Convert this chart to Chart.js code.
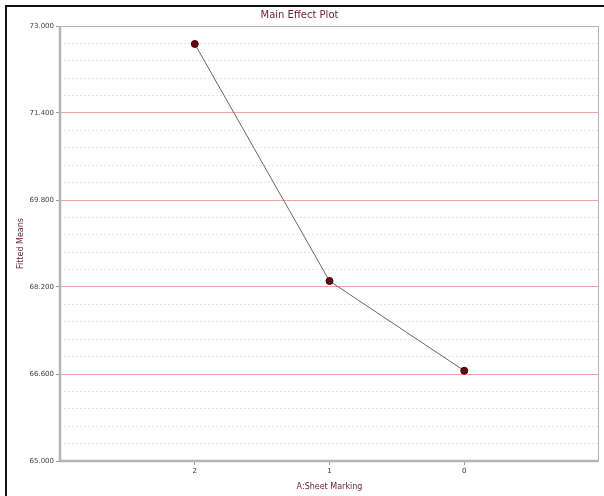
<!DOCTYPE html>
<html>
<head>
<meta charset="utf-8">
<script src="https://cdn.jsdelivr.net/npm/chart.js@4/dist/chart.umd.min.js"></script>
<style>
  html, body { margin: 0; padding: 0; background: #fff; }
  #wrap { width: 604px; height: 496px; }
</style>
</head>
<body>
<div id="wrap"><canvas id="effectChart"></canvas></div>
<script>
// Data
const levels = ['2', '1', '0'];
const fittedMeans = [72.67, 68.31, 66.66];
const yMin = 65.0, yMax = 73.0;
const majorStep = 1.6, minorStep = 0.32;

const maroon = '#6e2434';

// white page + the black frame on top/left of the screenshot
const framePlugin = {
    id: 'frame',
    beforeDraw(chart) {
        const ctx = chart.ctx;
        ctx.save();
        ctx.fillStyle = '#fff';
        ctx.fillRect(0, 0, chart.width, chart.height);
        ctx.strokeStyle = '#111';
        ctx.lineWidth = 2;
        ctx.beginPath();
        ctx.moveTo(6, chart.height);
        ctx.lineTo(6, 6);
        ctx.lineTo(chart.width, 6);
        ctx.stroke();
        ctx.restore();
    },
    afterDatasetsDraw(chart) {
        // grey plot box drawn over grid
        const a = chart.chartArea, ctx = chart.ctx;
        ctx.save();
        ctx.strokeStyle = '#b4b4b4';
        ctx.lineWidth = 1;
        ctx.strokeRect(a.left + 0.5, a.top + 0.5, a.right - a.left - 1, a.bottom - a.top);
        ctx.lineWidth = 2.5;
        ctx.beginPath();
        ctx.moveTo(a.left, a.top);
        ctx.lineTo(a.left, a.bottom);
        ctx.lineTo(a.right, a.bottom);
        ctx.stroke();
        ctx.restore();
    }
};

const isMajor = v => Math.abs(((v - yMin) / majorStep) - Math.round((v - yMin) / majorStep)) < 1e-6;

const ctx = document.getElementById('effectChart').getContext('2d');
new Chart(ctx, {
    type: 'line',
    data: {
        datasets: [{
            data: fittedMeans.map((v, i) => ({ x: i + 1, y: v })),
            borderColor: '#666',
            borderWidth: 1,
            pointBackgroundColor: '#6a0a10',
            pointBorderColor: '#3a0508',
            pointBorderWidth: 1,
            pointRadius: 3.5,
            tension: 0
        }]
    },
    options: {
        responsive: true,
        maintainAspectRatio: false,
        animation: false,
        layout: { padding: { left: 0, right: 5, top: 0, bottom: 0 } },
        plugins: {
            legend: { display: false },
            tooltip: { enabled: false },
            title: {
                display: true,
                text: 'Main Effect Plot',
                color: maroon,
                font: { family: 'DejaVu Sans', size: 10, weight: 'normal' },
                padding: { top: 9, bottom: 5 }
            }
        },
        scales: {
            x: {
                type: 'linear',
                min: 0,
                max: levels.length + 1,
                afterBuildTicks: s => { s.ticks = levels.map((l, i) => ({ value: i + 1 })); },
                afterFit: s => { s.height = 35; },
                ticks: {
                    callback: v => levels[v - 1],
                    color: '#333',
                    font: { family: 'DejaVu Sans', size: 7 },
                    padding: 2,
                    maxRotation: 0
                },
                grid: { drawOnChartArea: false, tickColor: '#e08080', tickLength: 4 },
                border: { display: false },
                title: {
                    display: true,
                    text: 'A:Sheet Marking',
                    color: maroon,
                    font: { family: 'DejaVu Sans', size: 8 },
                    padding: { top: 7 }
                }
            },
            yMinor: {
                type: 'linear',
                position: 'left',
                min: yMin,
                max: yMax,
                afterFit: s => { s.width = 0; },
                ticks: { stepSize: minorStep, display: false },
                grid: {
                    drawTicks: false,
                    color: c => isMajor(c.tick.value) ? 'rgba(0,0,0,0)' : '#d6f0d6',
                    lineWidth: 1
                },
                border: { display: false, dash: [2, 2] }
            },
            y: {
                type: 'linear',
                position: 'left',
                min: yMin,
                max: yMax,
                afterFit: s => { s.width = 60; },
                ticks: {
                    stepSize: majorStep,
                    callback: v => v.toFixed(3),
                    color: '#444',
                    font: { family: 'DejaVu Sans', size: 7 },
                    padding: 2
                },
                grid: {
                    color: c => c.tick.value === yMax ? 'rgba(0,0,0,0)' : '#f0a4a4',
                    tickColor: '#999',
                    tickLength: 4,
                    lineWidth: 1
                },
                border: { display: false },
                title: {
                    display: true,
                    text: 'Fitted Means',
                    color: maroon,
                    font: { family: 'DejaVu Sans', size: 8 },
                    padding: { top: 16, bottom: 0 }
                }
            }
        }
    },
    plugins: [framePlugin]
});
</script>
</body>
</html>
